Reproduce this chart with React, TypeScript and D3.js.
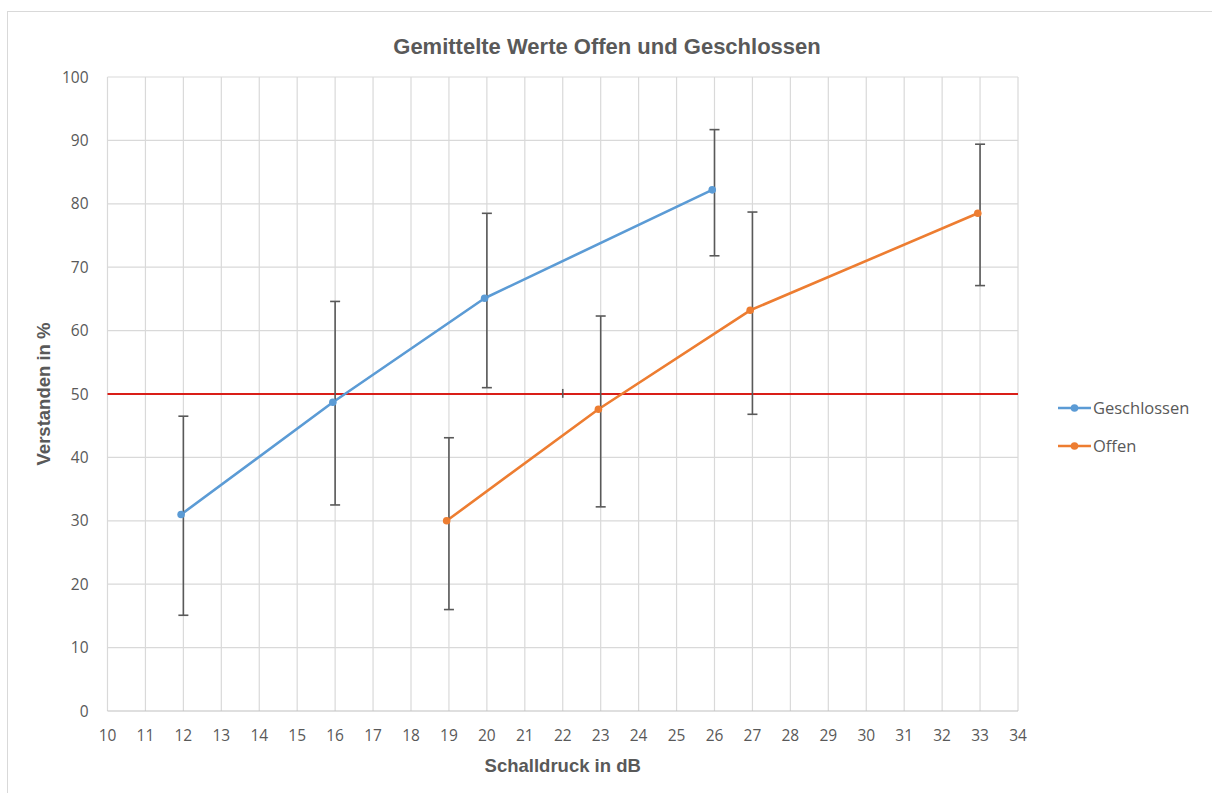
import { useEffect, useRef } from "react";
import * as d3 from "d3";

const xTicks = d3.range(10, 35);
const yTicks = d3.range(0, 101, 10);

// Geschlossen
const closedX = [11.94, 15.94, 19.94, 25.94];
const closedY = [31.0, 48.7, 65.1, 82.2];
const closedBarX = [12, 16, 20, 26];
const closedLow = [15.1, 32.5, 51.0, 71.8];
const closedHigh = [46.5, 64.6, 78.5, 91.7];

// Offen
const openX = [18.94, 22.94, 26.94, 32.94];
const openY = [30.0, 47.6, 63.2, 78.5];
const openBarX = [19, 23, 27, 33];
const openLow = [16.0, 32.2, 46.8, 67.1];
const openHigh = [43.1, 62.3, 78.7, 89.4];

// 50 % Schwelle
const thresholdY = 50;
const thresholdBarX = [22];
const thresholdLow = [49.4];
const thresholdHigh = [50.8];

const series = [
  { name: "Geschlossen", color: "#5b9bd5", xs: closedX, ys: closedY },
  { name: "Offen", color: "#ed7d31", xs: openX, ys: openY },
];

const TEXT = "#595959";
const GRID = "#d9d9d9";

export default function App() {
  const svgRef = useRef<SVGSVGElement | null>(null);

  useEffect(() => {
    const svgElement = svgRef.current;
    if (!svgElement) return;

    const width = 1212;
    const height = 793;
    const margin = { top: 77, right: 194, bottom: 82, left: 107.5 };
    const chartWidth = width - margin.left - margin.right;
    const chartHeight = height - margin.top - margin.bottom;

    const svg = d3.select(svgElement);
    svg.selectAll("*").remove();

    svg
      .append("rect")
      .attr("x", 7.5)
      .attr("y", 11.5)
      .attr("width", width)
      .attr("height", height)
      .attr("fill", "#fff")
      .attr("stroke", GRID)
      .attr("stroke-width", 1);

    const x = d3.scaleLinear().domain([10, 34]).range([0, chartWidth]);
    const y = d3.scaleLinear().domain([0, 100]).range([chartHeight, 0]);

    const g = svg
      .append("g")
      .attr("transform", `translate(${margin.left},${margin.top})`);

    // grid
    g.append("g")
      .selectAll("line")
      .data(xTicks)
      .join("line")
      .attr("x1", (d) => x(d))
      .attr("x2", (d) => x(d))
      .attr("y1", 0)
      .attr("y2", chartHeight)
      .attr("stroke", GRID)
      .attr("stroke-width", 1.2);

    g.append("g")
      .selectAll("line")
      .data(yTicks)
      .join("line")
      .attr("x1", 0)
      .attr("x2", chartWidth)
      .attr("y1", (d) => y(d))
      .attr("y2", (d) => y(d))
      .attr("stroke", (d) => (d === 0 ? "#bfbfbf" : GRID))
      .attr("stroke-width", 1.2);

    // tick labels
    const tickFont = "'Open Sans', 'Noto Sans', sans-serif";
    g.append("g")
      .selectAll("text")
      .data(xTicks)
      .join("text")
      .attr("x", (d) => x(d))
      .attr("y", chartHeight + 30)
      .attr("text-anchor", "middle")
      .attr("font-family", tickFont)
      .attr("font-size", 15.5)
      .attr("fill", TEXT)
      .text((d) => d);

    g.append("g")
      .selectAll("text")
      .data(yTicks)
      .join("text")
      .attr("x", -19)
      .attr("y", (d) => y(d) + 5.5)
      .attr("text-anchor", "end")
      .attr("font-family", tickFont)
      .attr("font-size", 15.5)
      .attr("fill", TEXT)
      .text((d) => d);

    // threshold line
    g.append("line")
      .attr("x1", 0)
      .attr("x2", chartWidth)
      .attr("y1", y(thresholdY))
      .attr("y2", y(thresholdY))
      .attr("stroke", "#d91e18")
      .attr("stroke-width", 1.8);

    // error bars
    const drawBars = (xs: number[], lo: number[], hi: number[], cap: number) => {
      const bars = g.append("g");
      xs.forEach((xv, i) => {
        bars
          .append("line")
          .attr("x1", x(xv))
          .attr("x2", x(xv))
          .attr("y1", y(lo[i]))
          .attr("y2", y(hi[i]))
          .attr("stroke", TEXT)
          .attr("stroke-width", 1.6);
        if (cap > 0) {
          [lo[i], hi[i]].forEach((v) => {
            bars
              .append("line")
              .attr("x1", x(xv) - cap)
              .attr("x2", x(xv) + cap)
              .attr("y1", y(v))
              .attr("y2", y(v))
              .attr("stroke", TEXT)
              .attr("stroke-width", 1.6);
          });
        }
      });
    };
    drawBars(thresholdBarX, thresholdLow, thresholdHigh, 0);

    const line = d3
      .line<[number, number]>()
      .x((d) => x(d[0]))
      .y((d) => y(d[1]));

    series.forEach((s) => {
      const pts = s.xs.map((xv, i) => [xv, s.ys[i]] as [number, number]);
      g.append("path")
        .datum(pts)
        .attr("fill", "none")
        .attr("stroke", s.color)
        .attr("stroke-width", 2.6)
        .attr("stroke-linejoin", "round")
        .attr("d", line);
    });

    drawBars(closedBarX, closedLow, closedHigh, 5);
    drawBars(openBarX, openLow, openHigh, 5);

    series.forEach((s) => {
      g.append("g")
        .selectAll("circle")
        .data(s.xs.map((xv, i) => [xv, s.ys[i]]))
        .join("circle")
        .attr("cx", (d) => x(d[0]))
        .attr("cy", (d) => y(d[1]))
        .attr("r", 3.8)
        .attr("fill", s.color);
    });

    // title & axis titles
    const boldFont = "'Liberation Sans', Arial, sans-serif";
    svg
      .append("text")
      .attr("x", 607)
      .attr("y", 54)
      .attr("text-anchor", "middle")
      .attr("font-family", boldFont)
      .attr("font-weight", "bold")
      .attr("font-size", 22)
      .attr("fill", TEXT)
      .text("Gemittelte Werte Offen und Geschlossen");

    svg
      .append("text")
      .attr("x", margin.left + chartWidth / 2)
      .attr("y", 772)
      .attr("text-anchor", "middle")
      .attr("font-family", boldFont)
      .attr("font-weight", "bold")
      .attr("font-size", 18.5)
      .attr("fill", TEXT)
      .text("Schalldruck in dB");

    svg
      .append("text")
      .attr("transform", `translate(50,${margin.top + chartHeight / 2}) rotate(-90)`)
      .attr("text-anchor", "middle")
      .attr("font-family", boldFont)
      .attr("font-weight", "bold")
      .attr("font-size", 18.5)
      .attr("fill", TEXT)
      .text("Verstanden in %");

    // legend
    const legend = svg.append("g").attr("transform", "translate(1058,408)");
    series.forEach((s, i) => {
      const row = legend.append("g").attr("transform", `translate(0,${i * 38})`);
      row
        .append("line")
        .attr("x1", 0)
        .attr("x2", 33)
        .attr("y1", 0)
        .attr("y2", 0)
        .attr("stroke", s.color)
        .attr("stroke-width", 2.6);
      row.append("circle").attr("cx", 16.5).attr("cy", 0).attr("r", 3.8).attr("fill", s.color);
      row
        .append("text")
        .attr("x", 35)
        .attr("y", 6)
        .attr("font-family", tickFont)
        .attr("font-size", 16.5)
        .attr("fill", TEXT)
        .text(s.name);
    });
  }, []);

  return (
    <svg
      ref={svgRef}
      width={1212}
      height={793}
      style={{ position: "absolute", left: 0, top: 0, background: "#fff" }}
    />
  );
}
